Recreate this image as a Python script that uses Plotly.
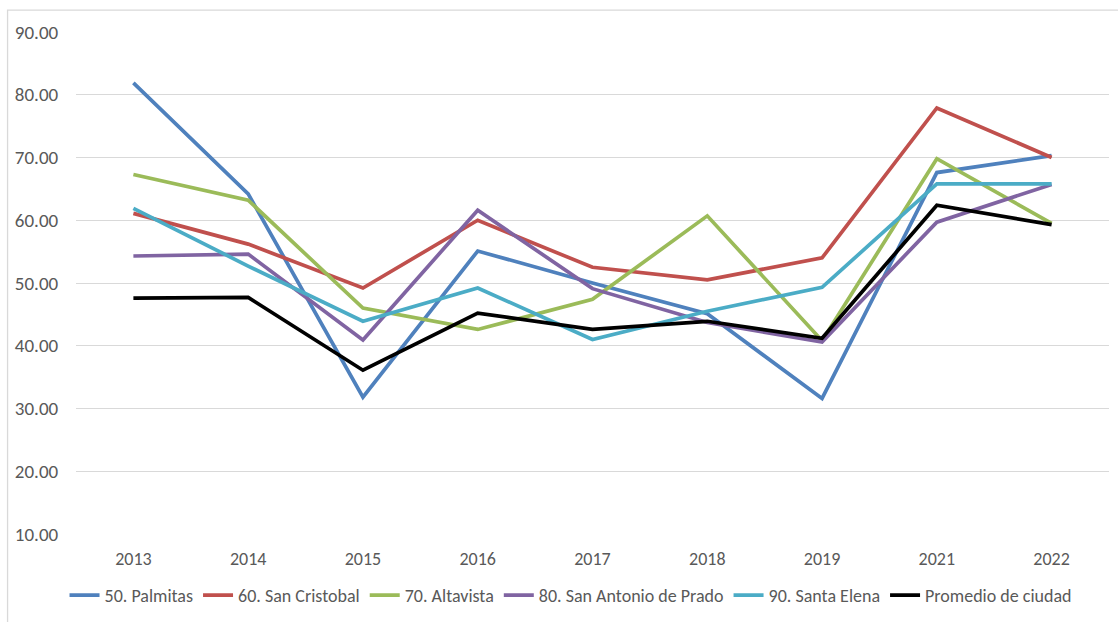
import plotly.graph_objects as go

years = ["2013", "2014", "2015", "2016", "2017", "2018", "2019", "2021", "2022"]

palmitas = [81.9, 64.2, 31.8, 55.1, 50.0, 45.1, 31.6, 67.6, 70.3]
san_cristobal = [61.1, 56.2, 49.2, 60.0, 52.5, 50.5, 54.0, 77.9, 70.0]
altavista = [67.3, 63.2, 46.0, 42.6, 47.4, 60.7, 40.8, 69.8, 59.5]
san_antonio = [54.3, 54.6, 40.9, 61.6, 49.1, 43.7, 40.6, 59.7, 65.7]
santa_elena = [61.9, 52.7, 43.9, 49.2, 41.0, 45.5, 49.3, 65.8, 65.8]
promedio = [47.6, 47.7, 36.1, 45.2, 42.6, 43.9, 41.2, 62.4, 59.3]

series_names = ["50. Palmitas", "60. San Cristobal", "70. Altavista",
                "80. San Antonio de Prado", "90. Santa Elena", "Promedio de ciudad"]
series_values = [palmitas, san_cristobal, altavista, san_antonio, santa_elena, promedio]
colors = ["#4F81BD", "#C0504D", "#9BBB59", "#8064A2", "#4BACC6", "#000000"]

FONT = "Calibri, Carlito, 'Liberation Sans Narrow', 'Open Sans', sans-serif"

fig = go.Figure()
for name, vals, col in zip(series_names, series_values, colors):
    fig.add_trace(go.Scatter(x=years, y=vals, name=name, mode="lines",
                             line=dict(color=col, width=3.7)))

W, H = 1118, 622
ml, mr, mt, mb = 75.5, 8.5, 32, 84
pw, ph = W - ml - mr, H - mt - mb

def px_x(p):
    return (p - ml) / pw

def px_y(p):
    return (H - mb - p) / ph

fig.update_layout(
    width=W, height=H,
    margin=dict(l=ml, r=mr, t=mt, b=mb),
    paper_bgcolor="white", plot_bgcolor="white",
    font=dict(family=FONT, size=18, color="#595959"),
    xaxis=dict(type="category", range=[-0.5, 8.5], showgrid=False, zeroline=False,
               showline=False, ticks="outside", ticklen=8, tickcolor="rgba(0,0,0,0)",
               tickfont=dict(size=18, color="#595959")),
    yaxis=dict(range=[10, 90], dtick=10, tick0=10, tickformat=".2f",
               showgrid=True, gridcolor="#D9D9D9", gridwidth=1.3, zeroline=False,
               showline=False, ticks="outside", ticklen=13, tickcolor="rgba(0,0,0,0)",
               tickfont=dict(size=19, color="#595959")),
    legend=dict(orientation="h", x=px_x(571), xanchor="center", y=px_y(600), yanchor="middle",
                font=dict(size=18, color="#595959"), itemwidth=30,
                tracegroupgap=0, bgcolor="rgba(0,0,0,0)"),
    showlegend=True,
)

fig.add_shape(type="rect", xref="paper", yref="paper",
              x0=px_x(7), x1=px_x(1130), y0=px_y(10), y1=px_y(640),
              line=dict(color="#D9D9D9", width=1.3), fillcolor="rgba(0,0,0,0)",
              layer="below")

fig.write_html("out.html", config={"displayModeBar": False},
               post_script="document.body.style.margin='0px';")
